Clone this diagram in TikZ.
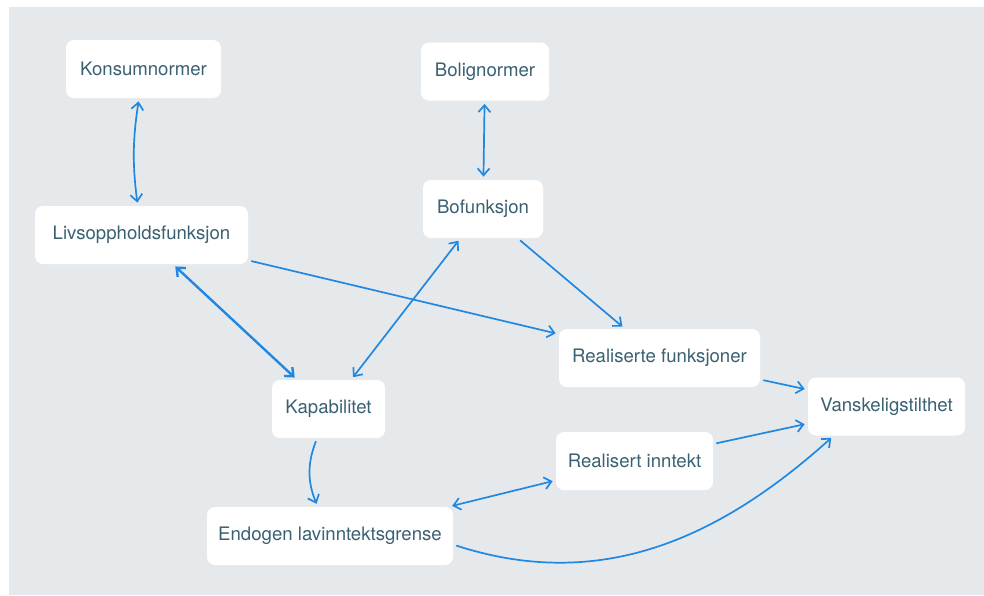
\documentclass[tikz,border=0pt]{standalone}
\usepackage{fontspec}
\setmainfont{TeX Gyre Heros}
\usetikzlibrary{arrows.meta,positioning}

\definecolor{panelgray}{HTML}{E6E9EC}
\definecolor{linkblue}{HTML}{2088E0}
\definecolor{labelteal}{HTML}{3A6172}

\tikzset{
  box/.style={fill=white, rounded corners=4pt, inner xsep=4pt,
    minimum width=#1, minimum height=29pt, text=labelteal,
    font=\fontsize{9.3}{11}\selectfont},
  box/.default=60pt,
  link/.style={draw=linkblue, line width=0.85pt,
    -{Straight Barb[length=3.5pt,width=6pt]}, shorten >=1.5pt, shorten <=1.5pt},
  biglink/.style={link, {Straight Barb[length=3.5pt,width=6pt]}-{Straight Barb[length=3.5pt,width=6pt]}},
}

\begin{document}
\begin{tikzpicture}[x=0.5pt, y=-0.5pt]

% --- Frame
\fill[white] (0,0) rectangle (984,595);
\fill[panelgray] (9,7) rectangle (984,595);
\useasboundingbox (0,0) rectangle (984,595);

% --- Norms
\node[box=77.5pt] (konsum) at (143.5,69) {Konsumnormer};
\node[box=64pt] (bolig) at (485,71.5) {Bolignormer};

% --- Functions
\node[box=106.5pt] (livs) at (141.5,235) {Livsoppholdsfunksjon};
\node[box=60pt] (bofunk) at (483,209) {Bofunksjon};
\node[box=100.5pt] (realfunk) at (659.5,358) {Realiserte funksjoner};

% --- Capability and income
\node[box=56.5pt] (kapab) at (328.5,409) {Kapabilitet};
\node[box=78.5pt] (realinnt) at (634.5,461) {Realisert inntekt};
\node[box=123pt] (endogen) at (330,536) {Endogen lavinntektsgrense};

% --- Outcome
\node[box=78.5pt] (vansk) at (886.5,406.5) {Vanskeligstilthet};

% --- Links
\draw[biglink] (konsum) to[bend right=8] (livs);
\draw[biglink] (bolig) -- (bofunk);
\draw[biglink, line width=1.2pt] (livs) -- (kapab);
\draw[biglink] (bofunk) -- (kapab);
\draw[link] (livs) -- (realfunk);
\draw[link] (bofunk) -- (realfunk);
\draw[link] (realfunk) -- (vansk);
\draw[link] (realinnt) -- (vansk);
\draw[biglink] (endogen) -- (realinnt);
\draw[link] (kapab) to[bend right=22] (endogen);
\draw[link] (endogen.-4) to[out=-18, in=-138] (vansk.-151);

\end{tikzpicture}
\end{document}
